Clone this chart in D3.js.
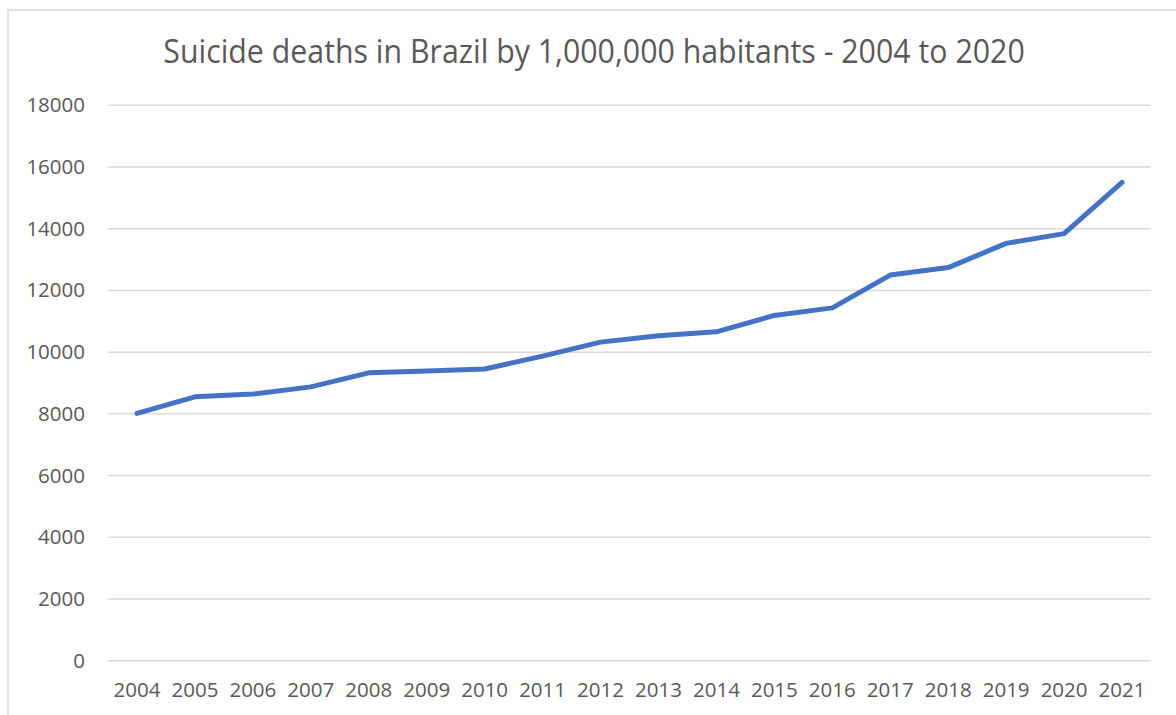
<!DOCTYPE html>
<html><head><meta charset="utf-8">
<script src="https://cdn.jsdelivr.net/npm/d3@7"></script>
<style>html,body{margin:0;padding:0;background:#fff;}svg{display:block;}</style>
</head><body>
<svg id="c" width="1176" height="715"></svg>
<script>
const title = "Suicide deaths in Brazil by 1,000,000 habitants - 2004 to 2020";
const years = ["2004","2005","2006","2007","2008","2009","2010","2011","2012","2013","2014","2015","2016","2017","2018","2019","2020","2021"];
const deaths = [8017,8552,8642,8875,9330,9385,9455,9870,10325,10533,10658,11190,11435,12498,12740,13525,13840,15500];
const yTicks = [0,2000,4000,6000,8000,10000,12000,14000,16000,18000];

(function(){
const svg = d3.select("#c");
const font = "'Open Sans', 'Noto Sans', sans-serif";
const grey = "#595959";

// chart border
svg.append("rect").attr("x",8).attr("y",10).attr("width",1200).attr("height",760)
  .attr("fill","#fff").attr("stroke","#d9d9d9").attr("stroke-width",1.5);

const mLeft = 108, mRight = 1151, mTop = 105.3, mBottom = 660.7;
const x = d3.scaleBand().domain(years).range([mLeft,mRight]);
const y = d3.scaleLinear().domain([0,18000]).range([mBottom,mTop]);

// gridlines
svg.append("g").selectAll("line").data(yTicks).join("line")
  .attr("x1",mLeft).attr("x2",mRight)
  .attr("y1",d=>y(d)).attr("y2",d=>y(d))
  .attr("stroke","#d9d9d9").attr("stroke-width",1.5);

// y axis labels
const ya = svg.append("g").attr("transform",`translate(${mLeft},0)`)
  .call(d3.axisLeft(y).tickValues(yTicks).tickSize(0).tickPadding(23).tickFormat(d3.format("d")));
ya.select(".domain").remove();
ya.selectAll("text").attr("font-family",font).attr("font-size",20.5).attr("fill",grey);

// x axis labels
const xa = svg.append("g").attr("transform",`translate(0,${mBottom})`)
  .call(d3.axisBottom(x).tickSize(0).tickPadding(22));
xa.select(".domain").remove();
xa.selectAll("text").attr("font-family",font).attr("font-size",20.5).attr("fill",grey);

// line
const line = d3.line().x((d,i)=>x(years[i])+x.bandwidth()/2).y(d=>y(d));
svg.append("path").datum(deaths).attr("d",line)
  .attr("fill","none").attr("stroke","#4472C4").attr("stroke-width",5)
  .attr("stroke-linecap","round").attr("stroke-linejoin","round");

// title
const t = svg.append("text").attr("x",0).attr("y",0)
  .attr("font-family",font).attr("font-size",32).attr("fill",grey).text(title);
const w = t.node().getComputedTextLength();
const target = 862, sx = Math.min(1, target/w);
t.attr("text-anchor","middle").attr("transform",`translate(594,63) scale(${sx},1)`);
})();
</script>
</body></html>
